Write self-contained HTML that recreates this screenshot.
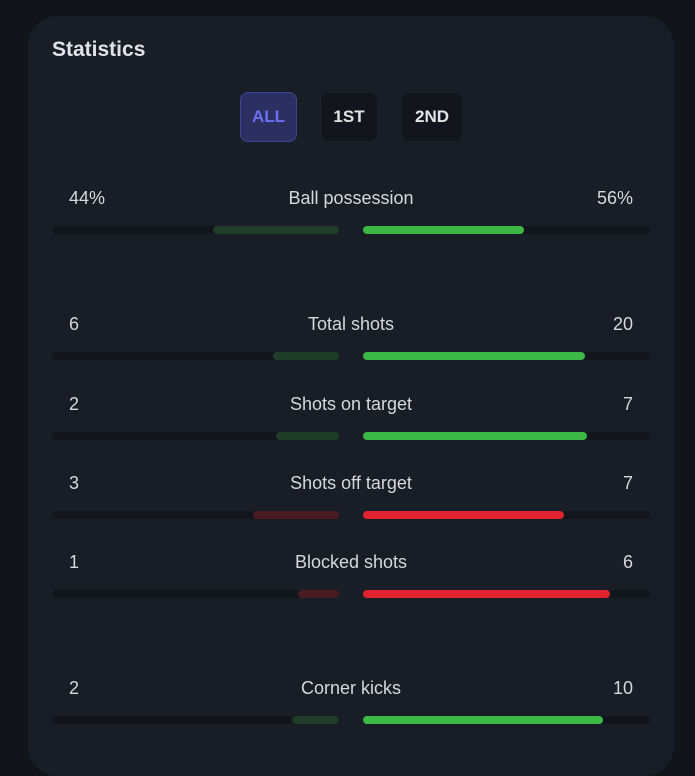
<!DOCTYPE html><html><head><style>
body{margin:0;width:695px;height:750px;background:#111418;overflow:hidden;font-family:"Liberation Sans Narrow","Liberation Sans",sans-serif;color:#d6d8dc}
.card{position:absolute;left:28px;top:16px;width:646px;height:760px;background:#181d26;border-radius:30px}
.t{position:absolute;left:52px;top:38px;font-size:21px;font-weight:bold;font-family:"Liberation Sans",sans-serif;color:#e1e3e6}
.b{position:absolute;top:92px;height:50px;border-radius:8px;background:#12151b;border:1px solid #1c2029;box-sizing:border-box;font-size:17px;font-weight:bold;text-align:center;line-height:48px;color:#e1e3e6;font-family:"Liberation Sans",sans-serif}
.lab{position:absolute;font-size:18px;line-height:20px}
.tr{position:absolute;height:8px;border-radius:4px;background:#12151b}
.f{position:absolute;height:8px;border-radius:4px}
</style></head><body>
<div class="card"></div>
<div class="t">Statistics</div>
<div class="b" style="left:240px;width:57px;background:#2b3060;border-color:#3e4596;color:#6b70f0">ALL</div>
<div class="b" style="left:320px;width:58px">1ST</div>
<div class="b" style="left:401px;width:62px">2ND</div>
<div id="rows"></div>
<script>
const rows=[["44%","Ball possession","56%",198,213,524,"g"],["6","Total shots","20",324,273,585,"g"],["2","Shots on target","7",404,276,587,"g"],["3","Shots off target","7",483,253,564,"r"],["1","Blocked shots","6",562,298,610,"r"],["2","Corner kicks","10",688,292,603,"g"]];
let h="";
for(const [a,n,b,y,l,r,c] of rows){
const dk=c=="g"?"#1f3d28":"#4a1c22",br=c=="g"?"#3bb846":"#e0232e";
h+=`<div class="lab" style="left:69px;top:${y-10}px">${a}</div><div class="lab" style="left:200px;width:302px;text-align:center;top:${y-10}px">${n}</div><div class="lab" style="right:62px;top:${y-10}px">${b}</div>`;
const by=y+28;
h+=`<div class="tr" style="left:52px;width:287px;top:${by}px"></div><div class="tr" style="left:363px;width:287px;top:${by}px"></div>`;
h+=`<div class="f" style="left:${l}px;width:${339-l}px;top:${by}px;background:${dk}"></div><div class="f" style="left:363px;width:${r-363}px;top:${by}px;background:${br}"></div>`;
}
document.getElementById("rows").innerHTML=h;
</script>
</body></html>
